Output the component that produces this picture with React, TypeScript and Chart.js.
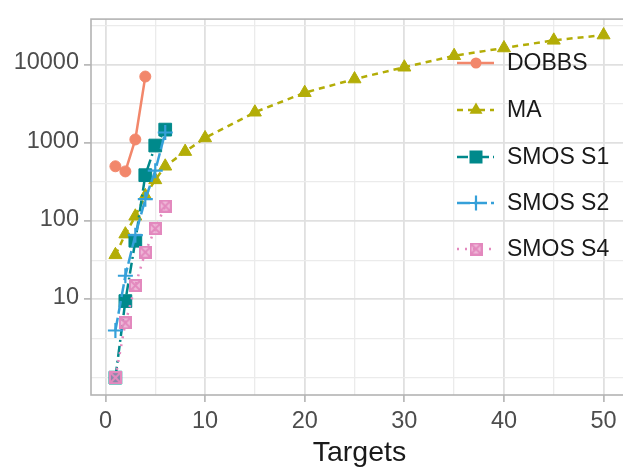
import React, { useEffect, useRef } from 'react';
import { Chart, registerables } from 'chart.js';

Chart.register(...registerables);

// ---- data ----
const seriesNames = ['DOBBS', 'MA', 'SMOS S1', 'SMOS S2', 'SMOS S4'];
const dobbsX = [1, 2, 3, 4];
const dobbsY = [500, 430, 1100, 7000];
const maX = [1, 2, 3, 4, 5, 6, 8, 10, 15, 20, 25, 30, 35, 40, 45, 50];
const maY = [37, 68, 115, 210, 335, 500, 770, 1150, 2450, 4350, 6500, 9200, 12900, 16200, 20300, 23700];
const smosX = [1, 2, 3, 4, 5, 6];
const s1Y = [1, 9.5, 56, 385, 920, 1470];
const s2Y = [4, 20, 66, 190, 440, 1350];
const s4Y = [1, 5, 15, 40, 80, 155];

const xTicks = [0, 5, 10, 15, 20, 25, 30, 35, 40, 45, 50];
const xLabeled = [0, 10, 20, 30, 40, 50];
const yTicks = [1, 3.1623, 10, 31.623, 100, 316.23, 1000, 3162.3, 10000, 31623];
const yLabeled = [10, 100, 1000, 10000];
const xTitle = 'Targets';

const colors = ['#F2876B', '#B3AD07', '#00898B', '#35A0D9', '#E389BE'];
const dashes: number[][] = [[], [6, 5], [11, 4, 2, 4], [13, 4], [2, 6]];

const FONT = "'Liberation Sans', Arial, Helvetica, sans-serif";

function makeS4Marker(color: string, size: number) {
  const c = document.createElement('canvas');
  c.width = size;
  c.height = size;
  const g = c.getContext('2d')!;
  g.strokeStyle = color;
  g.lineWidth = 2;
  g.strokeRect(1, 1, size - 2, size - 2);
  g.beginPath();
  g.moveTo(1, 1);
  g.lineTo(size - 1, size - 1);
  g.moveTo(size - 1, 1);
  g.lineTo(1, size - 1);
  g.stroke();
  g.globalAlpha = 0.6;
  g.fillStyle = color;
  g.fillRect(1, 1, size - 2, size - 2);
  return c;
}

function toPts(xs: number[], ys: number[]) {
  return xs.map((x, i) => ({ x, y: ys[i] }));
}

export default function App() {
  const ref = useRef<HTMLCanvasElement | null>(null);

  useEffect(() => {
    if (!ref.current) return;
    const s4Img = makeS4Marker(colors[4], 13);

    const pointDefs = [
      { style: 'circle', r: 5.5, bw: 1 },
      { style: 'triangle', r: 7.5, bw: 1 },
      { style: 'rect', r: 9, bw: 1 },
      { style: 'cross', r: 7.5, bw: 2.2 },
      { style: s4Img as any, r: 6.5, bw: 1 },
    ];

    const dataArr = [
      toPts(dobbsX, dobbsY),
      toPts(maX, maY),
      toPts(smosX, s1Y),
      toPts(smosX, s2Y),
      toPts(smosX, s4Y),
    ];

    const datasets = seriesNames.map((name, i) => ({
      label: name,
      data: dataArr[i],
      borderColor: colors[i],
      backgroundColor: colors[i],
      borderWidth: 2.5,
      borderDash: dashes[i],
      pointStyle: pointDefs[i].style,
      pointRadius: pointDefs[i].r,
      pointBorderWidth: pointDefs[i].bw,
      pointBackgroundColor: colors[i],
      pointBorderColor: colors[i],
      tension: 0,
      order: 5 - i,
    }));

    const panelPlugin = {
      id: 'panelAndLegend',
      afterDraw(chart: any) {
        const { ctx, chartArea } = chart;
        ctx.save();
        ctx.strokeStyle = '#B3B3B3';
        ctx.lineWidth = 1.6;
        ctx.strokeRect(chartArea.left, chartArea.top, chartArea.right - chartArea.left, chartArea.bottom - chartArea.top);

        // legend
        const rowY = [63, 110, 157, 203, 249];
        const x0 = 457;
        const x1 = 494;
        const xm = 476;
        const tx = 507;
        seriesNames.forEach((name, i) => {
          const y = rowY[i];
          ctx.save();
          ctx.strokeStyle = colors[i];
          ctx.fillStyle = colors[i];
          ctx.lineWidth = 2.5;
          ctx.setLineDash(dashes[i]);
          ctx.beginPath();
          ctx.moveTo(x0, y);
          ctx.lineTo(x1, y);
          ctx.stroke();
          ctx.setLineDash([]);
          if (i === 0) {
            ctx.beginPath();
            ctx.arc(xm, y, 5.5, 0, Math.PI * 2);
            ctx.fill();
          } else if (i === 1) {
            const r = 7.5;
            ctx.beginPath();
            ctx.moveTo(xm, y - r);
            ctx.lineTo(xm + r * Math.sin(Math.PI * 2 / 3), y - r * Math.cos(Math.PI * 2 / 3));
            ctx.lineTo(xm + r * Math.sin(Math.PI * 4 / 3), y - r * Math.cos(Math.PI * 4 / 3));
            ctx.closePath();
            ctx.fill();
          } else if (i === 2) {
            ctx.fillRect(xm - 6.5, y - 6.5, 13, 13);
          } else if (i === 3) {
            ctx.lineWidth = 2.2;
            ctx.beginPath();
            ctx.moveTo(xm - 7.5, y);
            ctx.lineTo(xm + 7.5, y);
            ctx.moveTo(xm, y - 7.5);
            ctx.lineTo(xm, y + 7.5);
            ctx.stroke();
          } else {
            ctx.drawImage(s4Img, xm - 6.5, y - 6.5);
          }
          ctx.fillStyle = '#1A1A1A';
          ctx.font = `23px ${FONT}`;
          ctx.textBaseline = 'middle';
          ctx.textAlign = 'left';
          ctx.fillText(name, tx, y + 1);
          ctx.restore();
        });
        ctx.restore();
      },
    };

    const chart = new Chart(ref.current, {
      type: 'line',
      data: { datasets: datasets as any },
      options: {
        animation: false,
        responsive: false,
        devicePixelRatio: 1,
        layout: { padding: { top: 13, right: 12, bottom: 0, left: 0 } },
        plugins: {
          legend: { display: false },
          tooltip: { enabled: false },
        },
        scales: {
          x: {
            type: 'linear',
            min: -1.45,
            max: 52.45,
            afterBuildTicks: (scale: any) => {
              scale.ticks = xTicks.map((v) => ({ value: v }));
            },
            afterFit: (scale: any) => {
              scale.height = 74;
            },
            border: { display: false },
            grid: {
              color: (c: any) => (c.tick && xLabeled.includes(c.tick.value) ? '#E0E0E0' : '#EBEBEB'),
              lineWidth: (c: any) => (c.tick && xLabeled.includes(c.tick.value) ? 1.8 : 1.3),
              drawTicks: true,
              tickLength: 7,
              tickColor: (c: any) => (c.tick && xLabeled.includes(c.tick.value) ? '#B3B3B3' : 'rgba(0,0,0,0)'),
              tickWidth: 1.6,
            },
            ticks: {
              autoSkip: false,
              maxRotation: 0,
              padding: 5,
              color: '#4D4D4D',
              font: { family: FONT, size: 23.5 },
              callback: (v: any) => (xLabeled.includes(Number(v)) ? String(v) : ''),
            },
            title: {
              display: true,
              text: xTitle,
              color: '#1A1A1A',
              font: { family: FONT, size: 28.5 },
              padding: { top: 0, bottom: -1 },
            },
          },
          y: {
            type: 'logarithmic',
            min: 0.622,
            max: 37900,
            afterBuildTicks: (scale: any) => {
              scale.ticks = yTicks.map((v) => ({ value: v }));
            },
            afterFit: (scale: any) => {
              scale.width = 91;
            },
            border: { display: false },
            grid: {
              color: (c: any) => (c.tick && yLabeled.includes(c.tick.value) ? '#E0E0E0' : '#EBEBEB'),
              lineWidth: (c: any) => (c.tick && yLabeled.includes(c.tick.value) ? 1.8 : 1.3),
              drawTicks: true,
              tickLength: 7,
              tickColor: (c: any) => (c.tick && yLabeled.includes(c.tick.value) ? '#B3B3B3' : 'rgba(0,0,0,0)'),
              tickWidth: 1.6,
            },
            ticks: {
              autoSkip: false,
              padding: 5,
              labelOffset: -1.5,
              color: '#4D4D4D',
              font: { family: FONT, size: 23.5 },
              callback: (v: any) => (yLabeled.includes(Number(v)) ? String(v) : ''),
            },
          },
        },
      },
      plugins: [panelPlugin],
    });

    return () => chart.destroy();
  }, []);

  return (
    <div
      style={{
        position: 'fixed',
        left: 0,
        top: 0,
        width: 623,
        height: 469,
        overflow: 'hidden',
        background: '#ffffff',
      }}
    >
      <canvas ref={ref} width={640} height={469} style={{ display: 'block', width: 640, height: 469 }} />
    </div>
  );
}
